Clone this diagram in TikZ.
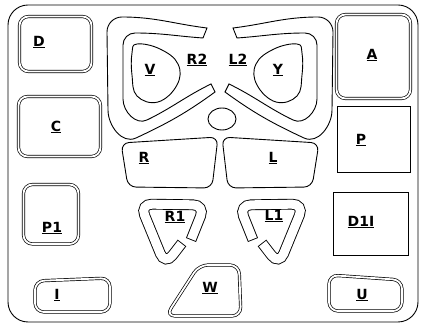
\documentclass[tikz,border=0pt]{standalone}
\usepackage{fontspec}
\setsansfont{DejaVu Sans}
\begin{document}
\begin{tikzpicture}[x=1pt, y=-1pt,
    pad/.style={draw, line width=0.7pt, double, double distance=1.8pt, rounded corners=9pt},
    plate/.style={draw, line width=0.9pt},
    lbl/.style={font=\sffamily\bfseries\fontsize{14}{14}\selectfont, inner sep=0pt}]
\useasboundingbox (0,0) rectangle (421,328);

% outer frame
\draw[plate, rounded corners=20pt] (8,5) rectangle (418,322);

% left column pads
\draw[pad] (19.5,16.5) rectangle (91.5,71.5);
\draw[pad] (18.5,96.5) rectangle (100.5,156.5);
\draw[pad] (23.5,184.5) rectangle (78.5,244);
\draw[pad] (35,281) -- (110,278) -- (110,312) -- (35,312) -- cycle;

% right column pads
\draw[pad] (336.5,14.5) rectangle (410.5,98.5);
\draw[plate] (337,106) rectangle (410,172);
\draw[plate] (333,192) rectangle (408,255);
\draw[pad] (329,275) -- (402,280) -- (402,311) -- (329,311) -- cycle;

% bottom pad
\draw[pad] (199,265) -- (239,265) -- (241,316) -- (166,316) -- cycle;

% wings, mirrored (angles are screen angles)
\foreach \s/\o in {1/0, -1/440} {
  \begin{scope}[shift={(\o,0)}, xscale=\s]
    \draw[plate] (207,28) to[out=173, in=0] (122,17) to[out=180, in=90] (107,32)
      -- (108,110) to[out=-90, in=205] (136,138) to[out=25, in=216] (215,92)
      -- (211,84) to[out=206, in=26] (147,120) to[out=206, in=-90] (123,99)
      -- (123,45) to[out=90, in=180] (135,33) to[out=0, in=176] (203,38) -- cycle;
    % shoulder plates
    \draw[plate, rounded corners=8pt] (121,143) -- (218,137) -- (212,188) -- (128,187) -- cycle;
  \end{scope}
}

% inner sticks
\foreach \s/\o in {1/0, -1/434} {
  \begin{scope}[shift={(\o,0)}, xscale=\s]
    \draw[plate] plot[smooth cycle, tension=0.7] coordinates {(137,44) (160,49) (178,64)
      (177,85) (158,102) (137,96) (132,75) (132,53)};
  \end{scope}
}

% triggers
\foreach \s/\o in {1/0, -1/444} {
  \begin{scope}[shift={(\o,0)}, xscale=\s]
    \draw[line width=10.8pt, rounded corners=12pt] (191,240) -- (205,205) -- (140,204)
      -- (165,265) -- (182,243);
    \draw[white, line width=9pt, rounded corners=12pt, shorten <=0.9pt, shorten >=0.9pt]
      (191,240) -- (205,205) -- (140,204) -- (165,265) -- (182,243);
  \end{scope}
}

% home button
\draw[plate] (222,119) ellipse [x radius=14, y radius=11];

% labels
\node[lbl] (lD) at (39,42) {\underline{D}};
\node[lbl] (lC) at (56,127) {\underline{C}};
\node[lbl] (lP1) at (52,228) {\underline{P1}};
\node[lbl] (lI) at (57,295) {\underline{I}};
\node[lbl] (lA) at (372,55) {\underline{A}};
\node[lbl] (lP) at (361,140) {\underline{P}};
\node[lbl] (lD1I) at (361,222) {\underline{D1I}};
\node[lbl] (lU) at (362,295) {\underline{U}};
\node[lbl] (lW) at (210,288) {\underline{W}};
\node[lbl] (lV) at (150,70) {\underline{V}};
\node[lbl] (lY) at (278,70) {\underline{Y}};
\node[lbl] (lR2) at (197,60) {\underline{R2}};
\node[lbl] (lL2) at (238,60) {\underline{L2}};
\node[lbl] (lR) at (144,158) {\underline{R}};
\node[lbl] (lL) at (273,158) {\underline{L}};
\node[lbl] (lR1) at (175,217) {\underline{R1}};
\node[lbl] (lL1) at (274,216) {\underline{L1}};
\end{tikzpicture}
\end{document}
